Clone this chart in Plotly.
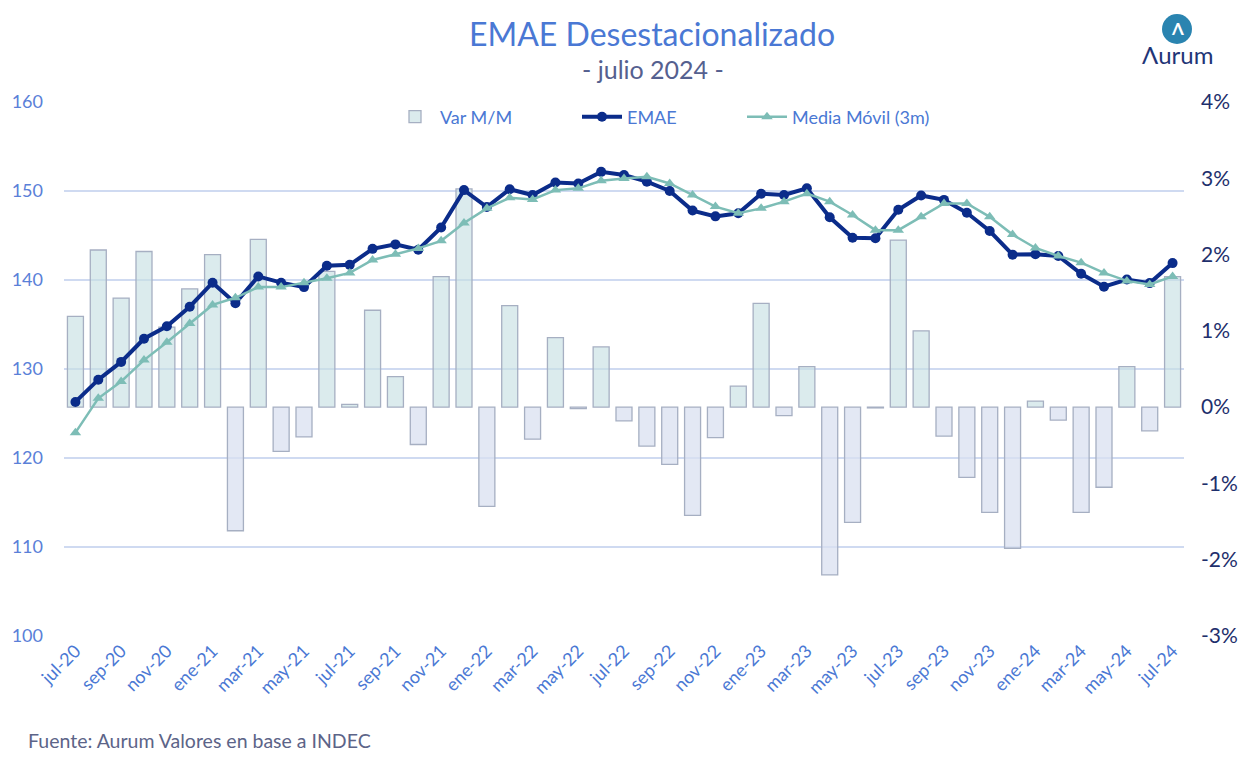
import plotly.graph_objects as go

months = ["jul-20","ago-20","sep-20","oct-20","nov-20","dic-20","ene-21","feb-21","mar-21","abr-21","may-21","jun-21",
          "jul-21","ago-21","sep-21","oct-21","nov-21","dic-21","ene-22","feb-22","mar-22","abr-22","may-22","jun-22",
          "jul-22","ago-22","sep-22","oct-22","nov-22","dic-22","ene-23","feb-23","mar-23","abr-23","may-23","jun-23",
          "jul-23","ago-23","sep-23","oct-23","nov-23","dic-23","ene-24","feb-24","mar-24","abr-24","may-24","jun-24",
          "jul-24"]

emae = [126.3,128.8,130.8,133.4,134.8,137.0,139.7,137.4,140.4,139.7,139.2,141.6,
        141.7,143.5,144.0,143.4,145.9,150.1,148.2,150.2,149.55,150.95,150.85,152.15,
        151.8,151.05,150.0,147.8,147.15,147.5,149.7,149.55,150.3,147.05,144.75,144.7,
        147.9,149.5,149.0,147.55,145.5,142.85,142.9,142.7,140.7,139.25,140.05,139.65,
        141.9]

media_movil = [122.85,126.7,128.6,131.0,133.0,135.1,137.2,138.0,139.2,139.2,139.7,140.2,
               140.8,142.25,142.9,143.55,144.4,146.4,148.05,149.25,149.05,150.1,150.3,151.15,
               151.4,151.6,150.85,149.55,148.25,147.5,148.05,148.8,149.7,148.8,147.3,145.6,
               145.6,147.1,148.6,148.6,147.1,145.1,143.6,142.7,141.95,140.8,139.9,139.5,
               140.4]

var_mm = [1.19,2.06,1.43,2.04,1.05,1.55,2.0,-1.62,2.2,-0.58,-0.39,1.78,
          0.035,1.27,0.40,-0.49,1.71,2.86,-1.30,1.33,-0.42,0.91,-0.02,0.79,
          -0.18,-0.51,-0.75,-1.42,-0.40,0.275,1.36,-0.11,0.53,-2.2,-1.51,-0.01,
          2.19,1.00,-0.38,-0.92,-1.38,-1.85,0.08,-0.17,-1.38,-1.05,0.53,-0.31,
          1.71]

left_ticks = [100, 110, 120, 130, 140, 150, 160]
right_ticks = [-3, -2, -1, 0, 1, 2, 3, 4]
right_ticktext = ["-3%", "-2%", "-1%", "0%", "1%", "2%", "3%", "4%"]

FONT = "Lato"
BLUE = "#4a78d4"
NAVY = "#0b2c8a"
TEAL = "#7dbdb6"

# page has an 8px body margin; plot area on screen: x 64..1184, y 102..636
W, H = 1245, 762
PX0, PX1, PY0, PY1 = 64, 1184, 102, 636
OFF = 8


def px(xs):
    return (xs - PX0) / (PX1 - PX0)


def py(ys):
    return (PY1 - ys) / (PY1 - PY0)


bar_colors = ["rgba(200,224,228,0.65)" if v >= 0 else "rgba(218,224,240,0.75)" for v in var_mm]

fig = go.Figure()
fig.add_trace(go.Bar(
    x=months, y=var_mm, name="Var M/M", yaxis="y", legend="legend",
    marker=dict(color=bar_colors, line=dict(color="#a6afc2", width=1.3)),
))
fig.add_trace(go.Scatter(
    x=months, y=emae, name="EMAE", yaxis="y2", mode="lines+markers", legend="legend2",
    line=dict(color=NAVY, width=4), marker=dict(symbol="circle", size=10, color=NAVY),
))
fig.add_trace(go.Scatter(
    x=months, y=media_movil, name="Media Móvil (3m)", yaxis="y2", mode="lines+markers", legend="legend3",
    line=dict(color=TEAL, width=2.5), marker=dict(symbol="triangle-up", size=10, color=TEAL),
))

leg_common = dict(orientation="h", xanchor="left", yanchor="middle", y=py(117),
                  bgcolor="rgba(0,0,0,0)", font=dict(size=18, color=BLUE, family=FONT),
                  itemwidth=40)

fig.update_layout(
    width=W, height=H,
    margin=dict(l=PX0 - OFF, r=W - (PX1 - OFF), t=PY0 - OFF, b=H - (PY1 - OFF), autoexpand=False),
    paper_bgcolor="white", plot_bgcolor="white",
    font=dict(family=FONT, color=BLUE),
    bargap=0.3,
    showlegend=True,
    legend=dict(leg_common, x=px(390)),
    legend2=dict(leg_common, x=px(577)),
    legend3=dict(leg_common, x=px(742)),
    xaxis=dict(type="category", categoryorder="array", categoryarray=months,
               tickmode="array", tickvals=months[::2], ticktext=months[::2],
               tickangle=-45, tickfont=dict(size=18, color=BLUE, family=FONT),
               showgrid=False, showline=False, zeroline=False, ticks="", automargin=False,
               range=[-0.5, len(months) - 0.5]),
    yaxis=dict(side="right", range=[-3, 4], tickvals=right_ticks, ticktext=right_ticktext,
               tickfont=dict(size=21, color="#1e2f6c", family=FONT), ticklabelstandoff=16,
               showgrid=False, zeroline=False, showline=False, ticks="", automargin=False),
    yaxis2=dict(side="left", overlaying="y", range=[100, 160], tickvals=left_ticks,
                tickfont=dict(size=18, color="#5a80d8", family=FONT), ticklabelstandoff=20,
                showgrid=True, gridcolor="#cfdaf1", gridwidth=1.5, automargin=False,
                zeroline=False, showline=False, ticks=""),
)

fig.add_annotation(text="EMAE Desestacionalizado", xref="paper", yref="paper",
                   x=px(652), y=py(33), xanchor="center", yanchor="middle",
                   showarrow=False, font=dict(size=32, color=BLUE, family=FONT))
fig.add_annotation(text="- julio 2024 -", xref="paper", yref="paper",
                   x=px(653), y=py(69), xanchor="center", yanchor="middle",
                   showarrow=False, font=dict(size=25, color="#55608f", family=FONT))
fig.add_annotation(text="Fuente: Aurum Valores en base a INDEC", xref="paper", yref="paper",
                   x=px(26), y=py(740), xanchor="left", yanchor="middle",
                   showarrow=False, font=dict(size=19.5, color="#5c6488", family=FONT))

# logo
fig.add_shape(type="circle", xref="paper", yref="paper", xsizemode="pixel", ysizemode="pixel",
              xanchor=px(1177), yanchor=py(29),
              x0=-15, x1=15, y0=-15, y1=15, fillcolor="#2a84b0", line=dict(width=0))
fig.add_annotation(text="<b>Λ</b>", xref="paper", yref="paper",
                   x=px(1177), y=py(28), xanchor="center", yanchor="middle",
                   showarrow=False, font=dict(size=17, color="white", family=FONT))
fig.add_annotation(text="Λurum", xref="paper", yref="paper",
                   x=px(1177), y=py(55), xanchor="center", yanchor="middle",
                   showarrow=False, font=dict(size=24, color="#1f3577", family=FONT))

fig.write_html("out.html")
